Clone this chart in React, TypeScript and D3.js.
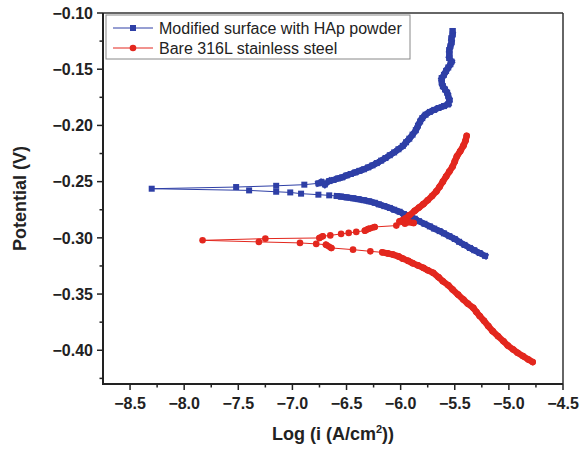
import React from "react";
import * as d3 from "d3";

const W = 581;
const H = 449;
const margin = { top: 13, right: 18, bottom: 65, left: 103 };

const xDomain = [-8.75, -4.5];
const yDomain = [-0.43, -0.1];
const xTicks = [-8.5, -8.0, -7.5, -7.0, -6.5, -6.0, -5.5, -5.0, -4.5];
const yTicks = [-0.1, -0.15, -0.2, -0.25, -0.3, -0.35, -0.4];

const seriesNames = ["Modified surface with HAp powder", "Bare 316L stainless steel"];
const seriesColors = ["#2e3fa6", "#e3271e"];

// Modified surface (log i, E) in scan order
const hapX = [
  -5.22, -5.27, -5.32, -5.36, -5.41, -5.46, -5.5, -5.55, -5.6, -5.64, -5.69, -5.73, -5.78, -5.83,
  -5.87, -5.92, -5.97, -6.01, -6.06, -6.1, -6.15, -6.2, -6.24, -6.29, -6.34, -6.39, -6.44, -6.5,
  -6.55, -6.59, -6.66, -6.76, -6.92, -7.02, -7.15, -7.4, -8.3, -7.52, -7.15, -6.89, -6.76, -6.73,
  -6.7, -6.66, -6.62, -6.58, -6.54, -6.5, -6.46, -6.42, -6.38, -6.34, -6.3, -6.26, -6.22, -6.18,
  -6.14, -6.1, -6.06, -6.02, -5.98, -5.95, -5.92, -5.89, -5.86, -5.84, -5.82, -5.8, -5.77, -5.73,
  -5.69, -5.65, -5.6, -5.56, -5.55, -5.56, -5.57, -5.59, -5.61, -5.62, -5.62, -5.6, -5.58, -5.56,
  -5.54, -5.53, -5.55, -5.55, -5.55, -5.54, -5.53, -5.53, -5.52, -5.52,
];
const hapY = [
  -0.316, -0.3135, -0.311, -0.309, -0.3063, -0.3035, -0.301, -0.2985, -0.296, -0.294, -0.2918,
  -0.2898, -0.2875, -0.2852, -0.283, -0.2808, -0.2788, -0.2768, -0.275, -0.2734, -0.2718, -0.2702,
  -0.2688, -0.2675, -0.2665, -0.2656, -0.2648, -0.264, -0.2633, -0.2628, -0.2622, -0.2616, -0.2607,
  -0.2596, -0.259, -0.2578, -0.2563, -0.2548, -0.2537, -0.2527, -0.2515, -0.2505, -0.2525, -0.2495,
  -0.2485, -0.2472, -0.2462, -0.2445, -0.2432, -0.2418, -0.2404, -0.239, -0.2373, -0.2355, -0.2335,
  -0.2313, -0.229, -0.2265, -0.224, -0.2212, -0.2182, -0.215, -0.2118, -0.2082, -0.2042, -0.2002,
  -0.1965, -0.1935, -0.1905, -0.188, -0.1862, -0.1845, -0.1828, -0.181, -0.1775, -0.174, -0.171,
  -0.168, -0.165, -0.1615, -0.158, -0.155, -0.1515, -0.1485, -0.1455, -0.1432, -0.14, -0.1365,
  -0.133, -0.1295, -0.126, -0.1225, -0.119, -0.116,
];

// Bare 316L (log i, E) in scan order
const bareX = [
  -4.78, -4.82, -4.87, -4.92, -4.96, -5.01, -5.05, -5.1, -5.15, -5.19, -5.23, -5.27, -5.3, -5.33,
  -5.38, -5.42, -5.47, -5.52, -5.56, -5.61, -5.65, -5.7, -5.75, -5.79, -5.84, -5.89, -5.93, -5.98,
  -6.02, -6.07, -6.12, -6.17, -6.28, -6.44, -6.64, -6.69, -6.78, -6.93, -7.31, -7.83, -7.25, -6.75,
  -6.72, -6.65, -6.55, -6.48, -6.41, -6.33, -6.3, -6.24, -6.04, -5.96, -5.88, -5.93, -6.01, -5.95,
  -5.92, -5.87, -5.83, -5.79, -5.75, -5.71, -5.67, -5.64, -5.61, -5.58, -5.55, -5.52, -5.5, -5.48,
  -5.45, -5.42, -5.4, -5.39,
];
const bareY = [
  -0.4105, -0.4082, -0.4052, -0.4022, -0.3993, -0.3958, -0.392, -0.3875, -0.383, -0.3785, -0.3738,
  -0.3695, -0.366, -0.3622, -0.3585, -0.3549, -0.3505, -0.346, -0.3422, -0.3386, -0.335, -0.3311,
  -0.3288, -0.3267, -0.3245, -0.3225, -0.3205, -0.3185, -0.3165, -0.3149, -0.3138, -0.3129, -0.312,
  -0.3105, -0.309, -0.3061, -0.3054, -0.3045, -0.3036, -0.3022, -0.3007, -0.3001, -0.2986, -0.2978,
  -0.2965, -0.2956, -0.2947, -0.2936, -0.2921, -0.2903, -0.2891, -0.2875, -0.2868, -0.286, -0.2853,
  -0.2825, -0.28, -0.276, -0.273, -0.27, -0.2665, -0.2628, -0.2587, -0.2545, -0.25, -0.2455, -0.241,
  -0.2365, -0.232, -0.2275, -0.223, -0.218, -0.2135, -0.2092,
];

const font = "Arial, 'Liberation Sans', sans-serif";

// where the scan points sit close together the markers merge into a solid band
function Series({ pts, color, kind, x, y }: any) {
  const px = pts.map((d: [number, number]) => [x(d[0]), y(d[1])]);
  const line = d3.line();
  const band: JSX.Element[] = [];
  for (let i = 1; i < px.length; i++) {
    const a = px[i - 1], b = px[i];
    if (Math.hypot(b[0] - a[0], b[1] - a[1]) < 7.5) {
      band.push(
        <line key={"s" + i} x1={a[0]} y1={a[1]} x2={b[0]} y2={b[1]} stroke={color}
          strokeWidth={kind === "square" ? 6 : 6.4} strokeLinecap={kind === "square" ? "square" : "round"} />
      );
    }
  }
  return (
    <g>
      <path d={line(px) || ""} fill="none" stroke={color} strokeWidth={1} />
      {band}
      {px.map((p: number[], i: number) =>
        kind === "square" ? (
          <rect key={i} x={p[0] - 3} y={p[1] - 3} width={6} height={6} fill={color} />
        ) : (
          <circle key={i} cx={p[0]} cy={p[1]} r={3.3} fill={color} />
        )
      )}
    </g>
  );
}

export default function App() {
  const x = d3.scaleLinear().domain(xDomain).range([margin.left, W - margin.right]);
  const y = d3.scaleLinear().domain(yDomain).range([H - margin.bottom, margin.top]);
  const x0 = x.range()[0], x1 = x.range()[1];
  const y0 = y.range()[0], y1 = y.range()[1];

  const xMinor = xTicks.slice(0, -1).map((v) => v + 0.25);
  const yMinor = d3.range(-0.425, -0.1, 0.05);

  const hap: [number, number][] = hapX.map((v, i) => [v, hapY[i]]);
  const bare: [number, number][] = bareX.map((v, i) => [v, bareY[i]]);

  return (
    <div style={{ position: "absolute", left: 0, top: 0 }}>
      <svg width={W} height={H} style={{ display: "block", background: "#fff" }}>
        {/* frame */}
        <line x1={x0} x2={x1} y1={y1} y2={y1} stroke="#333" strokeWidth={1.5} />
        <line x1={x1} x2={x1} y1={y1} y2={y0} stroke="#333" strokeWidth={1.5} />

        <Series pts={hap} color={seriesColors[0]} kind="square" x={x} y={y} />
        <Series pts={bare} color={seriesColors[1]} kind="circle" x={x} y={y} />

        {/* axes */}
        <line x1={x0} x2={x0} y1={y1} y2={y0 + 1} stroke="#222" strokeWidth={2} />
        <line x1={x0 - 1} x2={x1} y1={y0} y2={y0} stroke="#222" strokeWidth={2} />
        {yTicks.map((t) => (
          <g key={"yt" + t}>
            <line x1={x0 - 6} x2={x0} y1={y(t)} y2={y(t)} stroke="#222" strokeWidth={1.5} />
            <text x={x0 - 10} y={y(t)} dy="0.36em" textAnchor="end" fontFamily={font} fontWeight="bold" fontSize={16} fill="#222">
              {d3.format(".2f")(t)}
            </text>
          </g>
        ))}
        {yMinor.map((t) => (
          <line key={"ym" + t} x1={x0 - 3.5} x2={x0} y1={y(t)} y2={y(t)} stroke="#222" strokeWidth={1.5} />
        ))}
        {xTicks.map((t) => (
          <g key={"xt" + t}>
            <line x1={x(t)} x2={x(t)} y1={y0} y2={y0 + 6} stroke="#222" strokeWidth={1.5} />
            <text x={x(t)} y={y0 + 25} textAnchor="middle" fontFamily={font} fontWeight="bold" fontSize={16} fill="#222">
              {d3.format(".1f")(t)}
            </text>
          </g>
        ))}
        {xMinor.map((t) => (
          <line key={"xm" + t} x1={x(t)} x2={x(t)} y1={y0} y2={y0 + 3.5} stroke="#222" strokeWidth={1.5} />
        ))}

        {/* axis titles */}
        <text x={(x0 + x1) / 2} y={440} textAnchor="middle" fontFamily={font} fontWeight="bold" fontSize={18} fill="#222">
          Log (i (A/cm<tspan dy="-7" fontSize={11}>2</tspan><tspan dy="7">))</tspan>
        </text>
        <text transform={`translate(26,${(y0 + y1) / 2}) rotate(-90)`} textAnchor="middle" fontFamily={font} fontWeight="bold" fontSize={18} fill="#222">
          Potential (V)
        </text>

        {/* legend */}
        <rect x={106} y={15} width={304} height={44} fill="#fff" stroke="#888" strokeWidth={1} />
        {seriesNames.map((name, i) => {
          const ly = 28 + i * 20;
          return (
            <g key={name}>
              <line x1={113} x2={153} y1={ly} y2={ly} stroke={seriesColors[i]} strokeWidth={1} />
              {i === 0 ? (
                <rect x={130} y={ly - 3} width={6} height={6} fill={seriesColors[i]} />
              ) : (
                <circle cx={133} cy={ly} r={3.3} fill={seriesColors[i]} />
              )}
              <text x={159} y={ly} dy="0.36em" fontFamily={font} fontSize={16} fill="#222">
                {name}
              </text>
            </g>
          );
        })}
      </svg>
    </div>
  );
}
